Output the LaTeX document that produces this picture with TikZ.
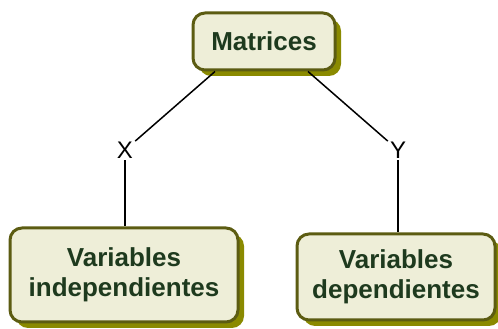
\documentclass[tikz,border=0pt]{standalone}
\usepackage{fontspec}
\setmainfont{Liberation Sans}
\usetikzlibrary{shadows,calc}
\definecolor{boxfill}{HTML}{EEEED8}
\definecolor{boxborder}{HTML}{5C5C12}
\definecolor{shadowc}{HTML}{8A8A00}
\definecolor{textc}{HTML}{1E3A1E}
\begin{document}
\begin{tikzpicture}[x=1pt,y=1pt,
  box/.style={draw=boxborder, line width=3pt, fill=boxfill, rounded corners=12pt,
    align=center, text=textc, font=\fontsize{26}{30}\selectfont\bfseries,
    inner sep=0pt,
    drop shadow={shadow xshift=6pt, shadow yshift=-6pt, fill=shadowc, opacity=1}},
  lbl/.style={font=\fontsize{24}{28}\selectfont, text=black, inner sep=2pt},
  conn/.style={line width=1.5pt, black}]
\useasboundingbox (0,0) rectangle (498,329);
\node[box, minimum width=142pt, minimum height=57pt] (m) at (264,287.5) {Matrices};
\node[box, minimum width=228pt, minimum height=94pt] (l) at (124,54) {Variables\\independientes};
\node[box, minimum width=198pt, minimum height=86pt] (r) at (396,52) {Variables\\dependientes};
\node[lbl] (x) at (125,179) {X};
\node[lbl] (y) at (398,179) {Y};
\draw[conn] ($(m.south)+(-49,0)$) -- (x);
\draw[conn] (x) -- (x |- l.north);
\draw[conn] ($(m.south)+(44,0)$) -- (y);
\draw[conn] (y) -- (y |- r.north);
\end{tikzpicture}
\end{document}
